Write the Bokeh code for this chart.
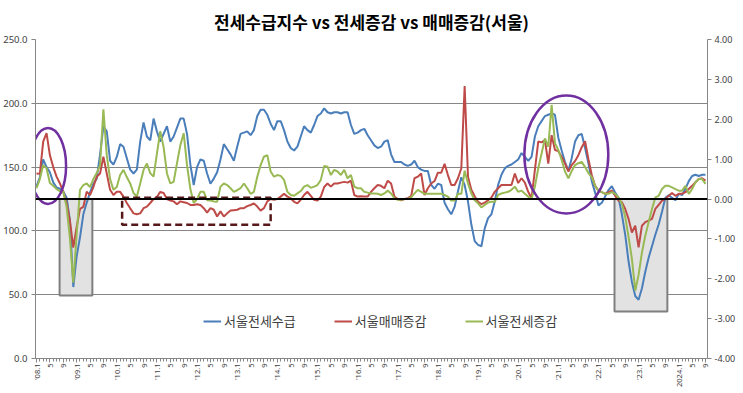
import math
from bokeh.plotting import figure
from bokeh.models import (Range1d, LinearAxis, FixedTicker, Span, Legend, LegendItem,
                          NumeralTickFormatter)
from bokeh.embed import file_html
from bokeh.resources import INLINE

# ---------------- data (monthly, 2008.1 .. 2024.9) ----------------
seoul_supply = [  # 서울전세수급 (left axis)
    135, 142, 156, 150, 146, 138, 134, 133, 131, 126, 108, 56,
    80, 95, 113, 122, 130, 137, 141, 160, 182, 178, 155, 152,
    158, 168, 166, 157, 148, 145, 148, 170, 185, 174, 171, 188,
    178, 170, 176, 182, 170, 174, 181, 188, 188, 176, 152, 136,
    150, 156, 155, 145, 137, 141, 146, 156, 168, 164, 160, 155,
    166, 176, 177, 178, 175, 179, 190, 195, 195, 191, 184, 179,
    186, 186, 179, 170, 165, 163, 166, 174, 182, 179, 177, 183,
    190, 192, 196, 193, 192, 193, 193, 192, 193, 193, 183, 176,
    177, 179, 180, 175, 171, 167, 165, 166, 170, 171, 160, 154,
    154, 154, 152, 151, 152, 155, 150, 148, 147, 147, 136, 133,
    137, 136, 122, 117, 113, 119, 131, 142, 136, 123, 105, 92,
    89, 88, 102, 110, 113, 123, 136, 144, 149, 151, 152, 154,
    156, 161, 158, 155, 158, 174, 182, 186, 190, 191, 192, 191,
    173, 163, 154, 147, 157, 170, 175, 176, 165, 153, 139, 130,
    120, 122, 127, 132, 135, 130, 126, 113, 97, 76, 60, 49,
    46, 55, 68, 79, 88, 97, 105, 115, 126, 128, 126, 124,
    129, 128, 133, 139, 143, 144, 143, 144, 144,
]
seoul_sale_chg = [  # 서울매매증감 (right axis)
    0.64, 0.63, 1.44, 1.65, 1.1, 0.8, 0.56, 0.39, 0.18, -0.11, -0.55, -1.22,
    -0.7, -0.25, -0.2, 0.18, 0.1, 0.3, 0.56, 0.64, 1.06, 0.64, 0.23, 0.1,
    0.18, 0.18, 0.06, -0.1, -0.23, -0.36, -0.38, -0.36, -0.23, -0.19, -0.1, 0.0,
    0.05, 0.18, 0.15, 0.0, -0.04, -0.06, -0.13, -0.06, -0.08, -0.1, -0.15, -0.15,
    -0.13, -0.15, -0.23, -0.34, -0.23, -0.27, -0.44, -0.31, -0.44, -0.36, -0.29, -0.28,
    -0.27, -0.23, -0.23, -0.18, -0.15, -0.11, -0.19, -0.29, -0.23, -0.06, 0.0, -0.02,
    0.0, 0.06, 0.13, 0.06, 0.02, -0.07, -0.11, -0.02, 0.1, 0.18, 0.08, -0.02,
    -0.04, 0.06, 0.3, 0.39, 0.31, 0.39, 0.39, 0.41, 0.43, 0.41, 0.46, 0.1,
    0.06, 0.07, 0.06, 0.06, 0.18, 0.27, 0.35, 0.33, 0.27, 0.46, 0.39, 0.06,
    0.0, -0.03, 0.0, 0.02, 0.07, 0.52, 0.56, 0.64, 0.1, 0.27, 0.39, 0.45,
    0.66, 0.66, 0.88, 0.6, 0.35, 0.35, 0.52, 0.77, 2.83, 0.56, 0.23, 0.07,
    -0.07, -0.13, -0.09, -0.03, 0.04, 0.18, 0.27, 0.35, 0.35, 0.35, 0.35, 0.64,
    0.4, 0.52, 0.41, 0.18, 0.02, 0.73, 1.44, 1.42, 1.48, 0.89, 1.6, 1.23,
    1.2, 1.06, 0.89, 0.69, 0.85, 0.95, 1.1, 1.3, 1.45, 1.0, 0.6, 0.33,
    0.21, 0.17, 0.13, 0.17, 0.21, 0.08, -0.04, -0.08, -0.25, -0.5, -0.84, -0.67,
    -1.21, -0.67, -0.58, -0.54, -0.5, -0.25, -0.15, -0.04, 0.0, 0.08, 0.15, 0.08,
    0.13, 0.13, 0.17, 0.25, 0.33, 0.42, 0.5, 0.52, 0.46,
]
seoul_jeonse_chg = [  # 서울전세증감 (right axis)
    0.27, 0.5, 0.85, 0.77, 0.4, 0.33, 0.25, 0.2, 0.18, -0.2, -1.0, -2.1,
    -0.9, 0.23, 0.35, 0.39, 0.3, 0.5, 0.65, 0.85, 2.25, 1.1, 0.5, 0.23,
    0.3, 0.6, 0.73, 0.55, 0.39, 0.15, 0.06, 0.39, 0.73, 0.89, 0.65, 0.56,
    1.14, 1.7, 1.3, 0.64, 0.39, 0.43, 0.9, 1.35, 1.65, 0.85, 0.25, -0.1,
    0.0, 0.18, 0.18, -0.03, -0.04, -0.06, -0.07, 0.31, 0.39, 0.35, 0.27, 0.18,
    0.22, 0.27, 0.39, 0.27, 0.13, 0.18, 0.56, 0.85, 1.06, 1.1, 0.69, 0.56,
    0.6, 0.58, 0.48, 0.18, 0.1, 0.08, 0.14, 0.2, 0.31, 0.35, 0.28, 0.31,
    0.35, 0.48, 0.83, 0.81, 0.6, 0.73, 0.69, 0.6, 0.73, 0.52, 0.6, 0.31,
    0.27, 0.27, 0.18, 0.16, 0.14, 0.14, 0.13, 0.1, 0.14, 0.21, 0.14, 0.02,
    -0.02, -0.02, 0.0, 0.0, 0.04, 0.14, 0.23, 0.18, 0.13, 0.13, 0.13, 0.13,
    0.13, 0.13, 0.1, 0.06, -0.04, -0.04, 0.13, 0.13, 0.71, 0.39, 0.14, -0.03,
    -0.11, -0.21, -0.15, -0.09, -0.07, -0.07, 0.1, 0.14, 0.16, 0.18, 0.23, 0.31,
    0.18, 0.21, 0.13, 0.06, 0.0, 0.31, 0.77, 1.14, 1.52, 1.31, 2.36, 1.4,
    1.23, 0.98, 0.69, 0.52, 0.7, 0.85, 0.9, 0.93, 0.8, 0.65, 0.55, 0.33,
    0.21, 0.17, 0.13, 0.13, 0.17, 0.13, 0.04, -0.12, -0.45, -0.95, -1.5, -2.3,
    -1.9, -1.34, -0.92, -0.58, -0.25, 0.04, 0.08, 0.25, 0.33, 0.33, 0.29, 0.25,
    0.21, 0.21, 0.33, 0.13, 0.25, 0.42, 0.5, 0.5, 0.38,
]
tick_labels = [
    "'08.1", "5", "9", "'09.1", "5", "9", "'10.1", "5", "9", "'11.1", "5", "9",
    "'12.1", "5", "9", "'13.1", "5", "9", "'14.1", "5", "9", "'15.1", "5", "9",
    "'16.1", "5", "9", "'17.1", "5", "9", "'18.1", "5", "9", "'19.1", "5", "9",
    "'20.1", "5", "9", "'21.1", "5", "9", "'22.1", "5", "9", "'23.1", "5", "9",
    "2024.1", "5", "9",
]
series_names = ["서울전세수급", "서울매매증감", "서울전세증감"]
title_text = "전세수급지수 vs 전세증감 vs 매매증감(서울)"

# annotation shapes (month index / left-axis units)
shade_left, shade_right = [6.9, 172.8], [16.7, 188.6]
shade_top, shade_bottom = [125, 125], [49.4, 36.8]
dash_box = dict(left=[25.6], right=[70.0], top=[126], bottom=[104.8])
ell_x, ell_y, ell_w, ell_h = [3.44, 158.4], [150.9, 159.9], [10.8, 25.1], [59.5, 92.5]

months = list(range(len(seoul_supply)))
tick_pos = list(range(0, len(seoul_supply), 4))

BLUE, RED, GREEN = "#4A7EBB", "#BE4B48", "#98B954"
AXIS_C = "#868686"
LBL_C = "#404040"
NUM_FONT = "Noto Sans"
KR_FONT = "Noto Sans CJK KR"

p = figure(frame_width=672, frame_height=319, output_backend="svg", toolbar_location=None,
           x_range=Range1d(-0.3, 200.6), y_range=Range1d(0, 250),
           min_border=0,
           background_fill_color="white", border_fill_color="white")
p.outline_line_color = None
p.extra_y_ranges = {"right": Range1d(-4, 4)}

p.title.text = title_text
p.title.align = "center"
p.title.text_font = KR_FONT
p.title.text_font_size = "17px"
p.title.text_font_style = "bold"
p.title.text_color = "black"
p.title.standoff = 12

# x axis
xa = p.xaxis[0]
xa.ticker = FixedTicker(ticks=tick_pos, minor_ticks=months)
xa.major_label_overrides = {t: l for t, l in zip(tick_pos, tick_labels)}
xa.major_label_orientation = math.pi / 2
xa.major_label_text_font = NUM_FONT
xa.major_label_text_font_size = "7.5px"
xa.major_label_text_color = LBL_C
xa.major_label_standoff = 1
xa.axis_line_color = AXIS_C
xa.major_tick_line_color = AXIS_C
xa.minor_tick_line_color = AXIS_C
xa.major_tick_out = 4
xa.major_tick_in = 0
xa.minor_tick_out = 3
xa.minor_tick_in = 0

# left axis
ya = p.yaxis[0]
ya.ticker = FixedTicker(ticks=[0, 50, 100, 150, 200, 250])
ya.formatter = NumeralTickFormatter(format="0.0")
ya.major_label_text_font = NUM_FONT
ya.major_label_text_font_size = "9.5px"
ya.major_label_text_color = LBL_C
ya.major_label_standoff = 4
ya.axis_line_color = AXIS_C
ya.major_tick_line_color = AXIS_C
ya.major_tick_out = 4
ya.major_tick_in = 0
ya.minor_tick_line_color = None

# right axis
ra = LinearAxis(y_range_name="right", ticker=FixedTicker(ticks=[-4, -3, -2, -1, 0, 1, 2, 3, 4]),
                formatter=NumeralTickFormatter(format="0.00"))
ra.major_label_text_font = NUM_FONT
ra.major_label_text_font_size = "9px"
ra.major_label_text_color = LBL_C
ra.major_label_standoff = 3
ra.axis_line_color = AXIS_C
ra.major_tick_line_color = AXIS_C
ra.major_tick_out = 4
ra.major_tick_in = 0
ra.minor_tick_line_color = None
p.add_layout(ra, "right")

p.xgrid.visible = False
p.ygrid.ticker = FixedTicker(ticks=[50, 100, 150, 200, 250])
p.ygrid.grid_line_color = AXIS_C
p.ygrid.grid_line_width = 1

# grey shaded boxes
p.quad(left=shade_left, right=shade_right, top=shade_top, bottom=shade_bottom,
       fill_color="#e2e2e2", line_color="#7f7f7f", line_width=2)

# series
rb = p.line(months, seoul_supply, line_color=BLUE, line_width=2)
rr = p.line(months, seoul_sale_chg, line_color=RED, line_width=2, y_range_name="right")
rg = p.line(months, seoul_jeonse_chg, line_color=GREEN, line_width=2, y_range_name="right")

# dashed box
p.quad(fill_alpha=0, line_color="#561818", line_width=2.5, line_dash="7 4", **dash_box)

# ellipses
p.ellipse(x=ell_x, y=ell_y, width=ell_w, height=ell_h, fill_alpha=0,
          line_color="#7030A0", line_width=2.5)

# zero line of right axis
p.add_layout(Span(location=0, dimension="width", y_range_name="right",
                  line_color="black", line_width=2))

legend = Legend(items=[LegendItem(label=series_names[0], renderers=[rb]),
                       LegendItem(label=series_names[1], renderers=[rr]),
                       LegendItem(label=series_names[2], renderers=[rg])],
                orientation="horizontal", location=(168, 28),
                background_fill_alpha=0, border_line_alpha=0,
                label_text_font=KR_FONT, label_text_font_size="13px",
                label_text_color=LBL_C, glyph_width=18, glyph_height=14,
                label_standoff=3, spacing=38, padding=0, margin=0)
p.add_layout(legend)

open("out.html", "w").write(file_html(p, INLINE))
